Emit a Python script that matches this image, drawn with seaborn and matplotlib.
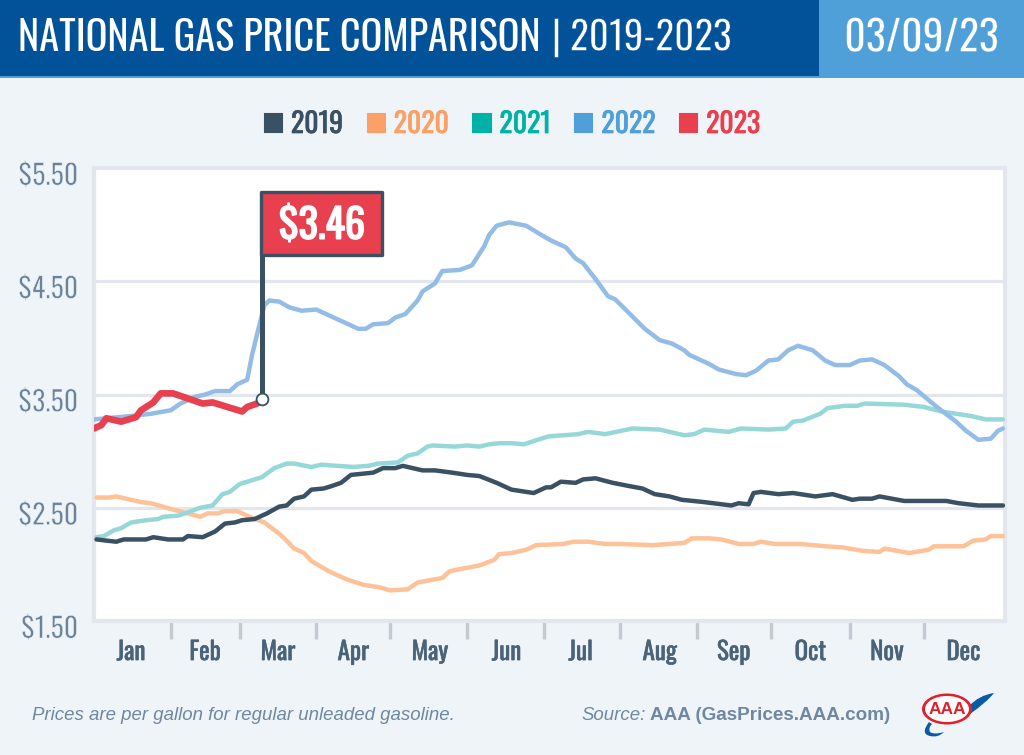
import matplotlib
matplotlib.use("Agg")
import matplotlib.pyplot as plt
import matplotlib.patches as mpatches
import matplotlib.patheffects as pe
import matplotlib.transforms as mtrans
from matplotlib.path import Path
import pandas as pd
import seaborn as sns

# day of year / price
days_2019 = [1, 9, 12, 21, 24, 30, 36, 38, 44, 49, 53, 57, 60, 65, 70, 75, 78, 81, 85, 88, 93, 96, 100, 104, 113, 117, 122, 125, 133, 138, 145, 151, 156, 163, 169, 178, 183, 185, 189, 195, 198, 203, 210, 217, 222, 227, 233, 238, 247, 258, 261, 265, 267, 270, 277, 283, 292, 299, 307, 310, 315, 318, 328, 345, 350, 358, 368]
price_2019 = [2.22, 2.20, 2.22, 2.22, 2.24, 2.22, 2.22, 2.25, 2.24, 2.29, 2.36, 2.37, 2.39, 2.40, 2.45, 2.51, 2.52, 2.58, 2.60, 2.66, 2.67, 2.69, 2.72, 2.79, 2.81, 2.85, 2.85, 2.87, 2.83, 2.83, 2.81, 2.79, 2.78, 2.72, 2.66, 2.63, 2.68, 2.68, 2.73, 2.72, 2.75, 2.76, 2.72, 2.69, 2.67, 2.62, 2.60, 2.57, 2.55, 2.52, 2.54, 2.53, 2.63, 2.64, 2.62, 2.63, 2.60, 2.62, 2.57, 2.58, 2.58, 2.60, 2.56, 2.56, 2.54, 2.52, 2.52]

days_2020 = [1, 6, 9, 19, 23, 31, 38, 43, 46, 50, 53, 58, 63, 69, 75, 77, 81, 85, 88, 95, 102, 109, 115, 120, 127, 131, 136, 141, 144, 151, 156, 162, 164, 169, 175, 179, 190, 194, 200, 207, 213, 226, 233, 239, 242, 249, 254, 261, 267, 270, 276, 286, 296, 303, 311, 318, 320, 330, 338, 340, 352, 356, 361, 363, 368]
price_2020 = [2.59, 2.59, 2.60, 2.55, 2.54, 2.49, 2.45, 2.42, 2.45, 2.45, 2.47, 2.47, 2.42, 2.37, 2.27, 2.23, 2.14, 2.10, 2.03, 1.94, 1.87, 1.82, 1.80, 1.77, 1.78, 1.84, 1.86, 1.88, 1.94, 1.97, 1.99, 2.04, 2.09, 2.10, 2.13, 2.17, 2.18, 2.20, 2.20, 2.18, 2.18, 2.17, 2.18, 2.19, 2.23, 2.23, 2.22, 2.18, 2.18, 2.20, 2.18, 2.18, 2.16, 2.15, 2.12, 2.11, 2.14, 2.10, 2.13, 2.16, 2.16, 2.21, 2.22, 2.25, 2.25]

days_2021 = [1, 4, 8, 11, 15, 21, 26, 28, 34, 38, 43, 48, 52, 55, 59, 68, 73, 78, 81, 88, 92, 105, 111, 115, 123, 127, 131, 135, 137, 146, 151, 156, 160, 164, 169, 174, 181, 184, 196, 200, 207, 218, 229, 239, 243, 247, 257, 262, 273, 280, 283, 287, 294, 297, 304, 309, 312, 328, 336, 343, 355, 361, 368]
price_2021 = [2.24, 2.25, 2.30, 2.32, 2.37, 2.39, 2.40, 2.42, 2.43, 2.46, 2.50, 2.52, 2.62, 2.64, 2.71, 2.77, 2.85, 2.89, 2.89, 2.86, 2.88, 2.86, 2.87, 2.89, 2.90, 2.96, 2.98, 3.04, 3.05, 3.04, 3.05, 3.04, 3.06, 3.07, 3.07, 3.06, 3.11, 3.13, 3.15, 3.17, 3.15, 3.20, 3.19, 3.14, 3.15, 3.19, 3.17, 3.20, 3.19, 3.20, 3.26, 3.27, 3.33, 3.38, 3.40, 3.40, 3.42, 3.41, 3.39, 3.35, 3.31, 3.28, 3.28]

days_2022 = [0, 15, 23, 31, 35, 41, 45, 49, 55, 58, 62, 64, 66, 69, 71, 75, 79, 84, 90, 96, 102, 107, 110, 113, 119, 122, 126, 131, 133, 138, 141, 148, 153, 158, 160, 163, 168, 175, 181, 185, 191, 195, 198, 203, 208, 211, 217, 223, 229, 234, 239, 241, 246, 249, 253, 260, 264, 268, 273, 277, 281, 285, 291, 296, 300, 306, 310, 315, 320, 326, 329, 333, 339, 343, 349, 353, 358, 363, 366, 368]
price_2022 = [3.28, 3.31, 3.33, 3.36, 3.42, 3.48, 3.50, 3.53, 3.53, 3.59, 3.63, 3.85, 4.03, 4.29, 4.33, 4.32, 4.27, 4.24, 4.25, 4.19, 4.13, 4.08, 4.08, 4.12, 4.13, 4.18, 4.21, 4.33, 4.41, 4.48, 4.59, 4.60, 4.64, 4.81, 4.91, 4.99, 5.02, 4.99, 4.91, 4.86, 4.80, 4.70, 4.66, 4.52, 4.37, 4.34, 4.21, 4.08, 3.98, 3.95, 3.89, 3.85, 3.80, 3.77, 3.72, 3.68, 3.67, 3.71, 3.80, 3.81, 3.89, 3.93, 3.89, 3.80, 3.76, 3.76, 3.80, 3.81, 3.76, 3.66, 3.59, 3.54, 3.43, 3.36, 3.26, 3.18, 3.10, 3.11, 3.18, 3.20]

days_2023 = [0, 3, 5, 11, 17, 19, 24, 27, 32, 40, 44, 48, 54, 60, 62, 66, 68]
price_2023 = [3.20, 3.23, 3.29, 3.26, 3.30, 3.36, 3.43, 3.51, 3.51, 3.45, 3.42, 3.43, 3.39, 3.35, 3.39, 3.42, 3.46]

years = [2019, 2020, 2021, 2022, 2023]
legend_colors = ["#3a5163", "#fba066", "#00b2a6", "#4f9fd9", "#e8404f"]
line_colors = {2019: "#3a5163", 2020: "#fdc298", 2021: "#96d8d8", 2022: "#93bce6", 2023: "#e8404f"}

month_labels = ["Jan", "Feb", "Mar", "Apr", "May", "Jun", "Jul", "Aug", "Sep", "Oct", "Nov", "Dec"]
month_mid = [15, 45, 74.5, 105, 136, 167, 197, 229, 259, 290, 321, 352]
month_ends = [31, 59, 90, 120, 151, 182, 213, 244, 274, 306, 336]
price_ticks = [1.5, 2.5, 3.5, 4.5, 5.5]
price_labels = ["$1.50", "$2.50", "$3.50", "$4.50", "$5.50"]
current_day = 68
current_price = 3.46
current_label = "$3.46"

NARROW = ["Oswald", "Barlow Condensed", "Liberation Sans", "DejaVu Sans"]
BG = "#eff4f9"
GRID = "#e3e6ec"
DARK = "#3a5163"
MUTED = "#6b8299"
FOOT = "#6f87a0"
NAVY = "#02529a"
SKY = "#4f9fd9"


def heavier(text, width=0.5):
    # Oswald only loads one weight here, so thicken with an outline
    text.set_path_effects([pe.withStroke(linewidth=width, foreground=text.get_color())])


def lighter(text, back, width=0.4):
    text.set_path_effects([pe.Stroke(linewidth=width, foreground=back)])


frames = []
for year, d, p in zip(years, [days_2019, days_2020, days_2021, days_2022, days_2023],
                      [price_2019, price_2020, price_2021, price_2022, price_2023]):
    frames.append(pd.DataFrame({"day": d, "price": p, "year": year}))
df = pd.concat(frames)

sns.set_theme(style="white")
plt.rcParams["font.family"] = NARROW

fig = plt.figure(figsize=(10.24, 7.55), dpi=100, facecolor=BG)

# overlay in pixel coordinates for the header, footer and logo
bg = fig.add_axes([0, 0, 1, 1], zorder=0)
bg.set_xlim(0, 1024)
bg.set_ylim(755, 0)
bg.axis("off")
bg.add_patch(mpatches.Rectangle((0, 0), 819, 76, fc=NAVY, ec="none"))
bg.add_patch(mpatches.Rectangle((819, 0), 205, 76, fc=SKY, ec="none"))
bg.add_patch(mpatches.Rectangle((0, 76), 1024, 1.5, fc=SKY, ec="none"))
bg.text(18, 38, "NATIONAL GAS PRICE COMPARISON", color="white", fontsize=29, va="center", ha="left")
bar = bg.text(556, 38, "|", color="white", fontsize=29, va="center", ha="center")
span = bg.text(570, 38, "2019-2023", color="white", fontsize=28.2, va="center", ha="left")
date = bg.text(921.5, 38, "03/09/23", color="white", fontsize=30, va="center", ha="center")
lighter(bar, NAVY)
lighter(span, NAVY)
lighter(date, SKY, 0.25)

bg.text(32, 715, "Prices are per gallon for regular unleaded gasoline.", color=FOOT,
        fontsize=13.4, style="italic", family="Liberation Sans", va="center")
bg.text(581, 715, "Source:", color=FOOT, fontsize=13.4, style="italic",
        family="Liberation Sans", va="center")
bg.text(650, 715, "AAA (GasPrices.AAA.com)", color=FOOT, fontsize=13.6, weight="bold",
        family="Liberation Sans", va="center")

# AAA logo
C3 = Path.CURVE3
swoosh_top = Path([(968, 707), (979, 695), (994, 693), (987, 702), (970, 714), (968, 707)],
                  [Path.MOVETO, C3, C3, C3, C3, Path.CLOSEPOLY])
swoosh_low = Path([(929, 722), (920, 734), (930, 736), (938, 738), (944, 732), (934, 735), (930, 732), (928, 728), (932, 724), (929, 722)],
                  [Path.MOVETO, C3, C3, C3, C3, C3, C3, C3, C3, Path.CLOSEPOLY])
bg.add_patch(mpatches.PathPatch(swoosh_top, fc="#0b5aa6", ec="none"))
bg.add_patch(mpatches.PathPatch(swoosh_low, fc="#0b5aa6", ec="none"))
bg.add_patch(mpatches.Ellipse((947, 709), 50, 31, fc="#e2202c", ec="none"))
bg.add_patch(mpatches.Ellipse((947, 709), 44, 26, fc="white", ec="none"))
bg.text(947, 710, "AAA", color="#e2202c", fontsize=12.5, weight="bold", family="Liberation Sans",
        ha="center", va="center")

# chart
ax = fig.add_axes([94 / 1024, 1 - 621 / 755, (1005 - 94) / 1024, (621 - 168) / 755], zorder=1)
ax.set_facecolor("white")
for h in [2.5, 3.5, 4.5]:
    ax.axhline(h, color=GRID, lw=2.3, zorder=1)

draw_order = [2020, 2021, 2022, 2019]
sns.lineplot(data=df[df.year != 2023], x="day", y="price", hue="year", hue_order=draw_order,
             palette=line_colors, estimator=None, errorbar=None, sort=False, legend=False,
             lw=3.2, ax=ax, zorder=3)
sns.lineplot(data=df[df.year == 2023], x="day", y="price", color=line_colors[2023],
             estimator=None, errorbar=None, sort=False, legend=False,
             lw=4.8, ax=ax, zorder=4)
for line in ax.get_lines():
    line.set_solid_joinstyle("round")

ax.set_xlim(0, 368.8)
ax.set_ylim(1.5, 5.5)
ax.set_xlabel("")
ax.set_ylabel("")

ax.set_xticks(month_ends)
ax.set_xticklabels([])
ax.set_xticks(month_mid, minor=True)
ax.set_xticklabels(month_labels, minor=True, fontsize=18, color="#4a6378")
ax.tick_params(axis="x", which="major", bottom=True, length=13, width=2.4, color="#c5cad0")
ax.tick_params(axis="x", which="minor", bottom=True, length=0, pad=13)
ax.set_yticks(price_ticks)
ax.set_yticklabels(price_labels, fontsize=20, color=MUTED)
ax.tick_params(axis="y", left=False, pad=5.5)
shift = mtrans.ScaledTranslation(0, -6 / 100, fig.dpi_scale_trans)
for lab in ax.get_yticklabels():
    lab.set_transform(lab.get_transform() + shift)
    lighter(lab, BG, 0.4)
for lab in ax.get_xticklabels(minor=True):
    heavier(lab, 0.4)

for s in ax.spines.values():
    s.set_visible(True)
    s.set_color(GRID)
    s.set_linewidth(3)

# flag on the current price
ax.plot([current_day, current_day], [current_price, 4.75], color=DARK, lw=3.6, zorder=5,
        solid_capstyle="butt")
ax.add_patch(mpatches.Rectangle((current_day - 0.4, 4.73), 48.8, 0.56, fc="#e8404f", ec=DARK,
                                lw=2.4, zorder=6, joinstyle="round"))
ax.plot([current_day], [current_price], "o", ms=8.5, mfc="white", mec=DARK, mew=1.3, zorder=7)
flag_text = ax.text(92.3, 4.99, current_label, color="white", fontsize=29, ha="center",
                    va="center", zorder=8)
heavier(flag_text, 1.1)

# legend
handles = [mpatches.Patch(fc=c, ec=c, lw=1.5, joinstyle="round", label=str(y))
           for y, c in zip(years, legend_colors)]
leg = fig.legend(handles=handles, loc="center", bbox_to_anchor=(512.5 / 1024, 1 - 124.5 / 755), ncol=5,
                 frameon=False, labelcolor=legend_colors, handlelength=0.62,
                 handleheight=0.62, handletextpad=0.32, columnspacing=0.88,
                 prop={"family": NARROW, "size": 20})
for t in leg.get_texts():
    heavier(t, 0.5)

fig.savefig("out.png", dpi=100, facecolor=BG)
